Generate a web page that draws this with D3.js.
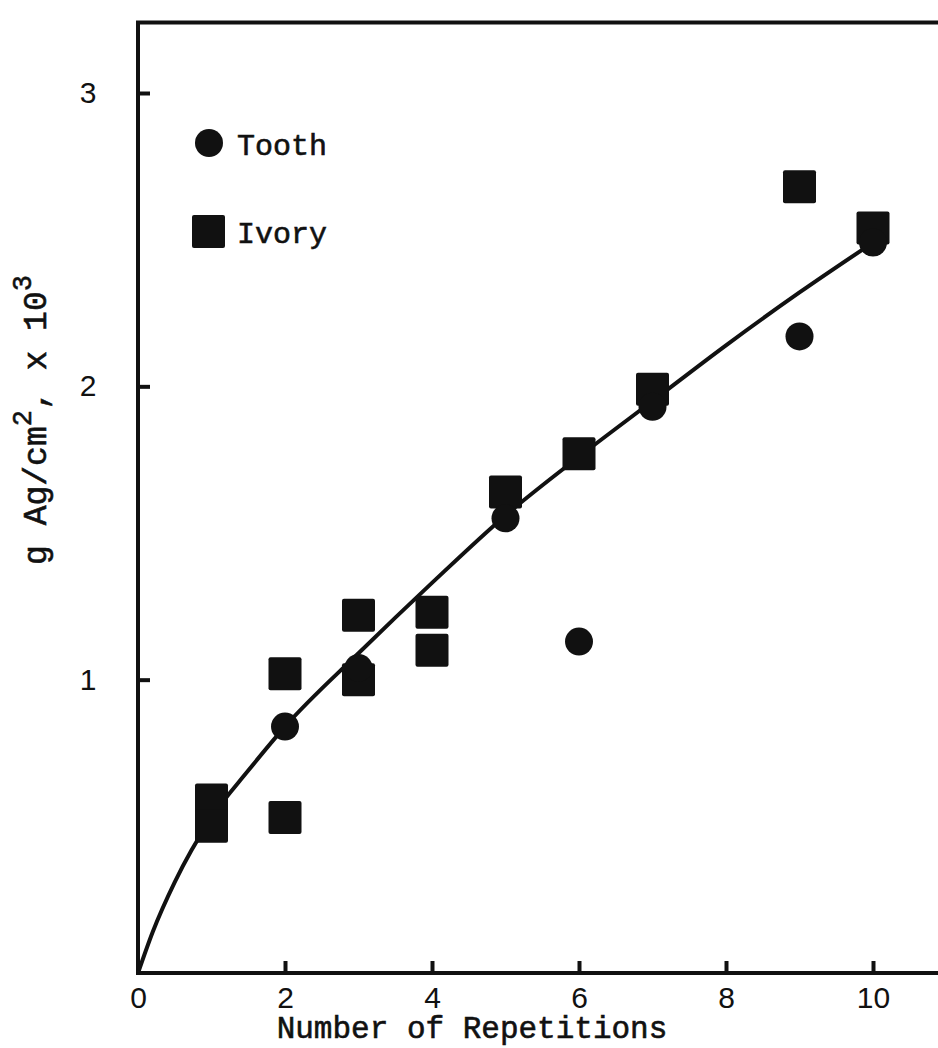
<!DOCTYPE html>
<head>
    <script src="https://d3js.org/d3.v7.min.js"></script>
</head>
<style>
body {
    margin: 0;
    background: #fff;
}
.lbl {
    font-family: "Liberation Mono", "DejaVu Sans Mono", monospace;
    fill: #111;
    stroke: #111;
    stroke-width: 0.6px;
}
.tick text {
    font-family: "Liberation Sans", Arial, sans-serif;
    font-size: 30px;
    fill: #111;
}
</style>
<body>
<svg></svg>
</body>
<script>

    // Values
    var toothX = [2, 3, 5, 6, 7, 9, 10];
    var toothY = [0.84, 1.04, 1.55, 1.13, 1.93, 2.17, 2.49];

    var ivoryX = [1, 1, 2, 2, 3, 3, 4, 4, 5, 6, 7, 9, 10];
    var ivoryY = [0.59, 0.50, 1.02, 0.53, 1.22, 1.00, 1.23, 1.10, 1.64, 1.77, 1.99, 2.68, 2.54];

    // fitted curve, read at several points
    var curveX = [0, 0.2, 0.5, 1, 1.5, 2, 3, 4, 5, 6, 7, 8, 9, 10];
    var curveY = [0, 0.14, 0.31, 0.53, 0.69, 0.84, 1.09, 1.33, 1.56, 1.76, 1.95, 2.14, 2.32, 2.49];

    var xTicks = [0, 2, 4, 6, 8, 10];
    var yTicks = [1, 2, 3];

    var width = 938;
    var height = 1048;

    var svg = d3.select('svg')
        .attr('width', width)
        .attr('height', height);

    var x = d3.scaleLinear().domain([0, 10]).range([138, 873]);
    var y = d3.scaleLinear().domain([0, 3]).range([973, 93]);
    var yTop = 3.24;

    // axes (ticks point inward)
    var xAxis = d3.axisBottom(x).tickValues(xTicks).tickFormat(d3.format('d'))
        .tickSizeInner(-12).tickSizeOuter(0).tickPadding(12);
    var yAxis = d3.axisLeft(y).tickValues(yTicks).tickFormat(d3.format('d'))
        .tickSizeInner(-12).tickSizeOuter(0).tickPadding(50);

    var gx = svg.append('g').attr('transform', 'translate(0,' + y(0) + ')').call(xAxis);
    var gy = svg.append('g').attr('transform', 'translate(' + x(0) + ',0)').call(yAxis);
    gx.select('.domain').remove();
    gy.select('.domain').remove();
    svg.selectAll('.tick line').attr('stroke', '#111').attr('stroke-width', 4);
    gx.selectAll('.tick text').attr('dy', '0.78em');
    gy.selectAll('.tick text').attr('text-anchor', 'middle');

    // frame: left, bottom, top
    var frame = svg.append('g').attr('stroke', '#111').attr('stroke-width', 4).attr('fill', 'none');
    frame.append('path')
        .attr('d', 'M' + width + ',' + y(0) + 'H' + x(0) + 'V' + y(yTop) + 'H' + width);

    // fitted curve
    var line = d3.line()
        .x(function (d, i) { return x(curveX[i]); })
        .y(function (d, i) { return y(curveY[i]); })
        .curve(d3.curveMonotoneX);

    svg.append('path')
        .datum(curveX)
        .attr('d', line)
        .attr('fill', 'none')
        .attr('stroke', '#111')
        .attr('stroke-width', 4);

    // ivory squares
    var sq = 33;
    svg.append('g').selectAll('rect')
        .data(ivoryX)
        .enter().append('rect')
        .attr('x', function (d) { return x(d) - sq / 2; })
        .attr('y', function (d, i) { return y(ivoryY[i]) - sq / 2; })
        .attr('width', sq)
        .attr('height', sq)
        .attr('rx', 2)
        .attr('fill', '#111');

    // tooth circles
    svg.append('g').selectAll('circle')
        .data(toothX)
        .enter().append('circle')
        .attr('cx', function (d) { return x(d); })
        .attr('cy', function (d, i) { return y(toothY[i]); })
        .attr('r', 14)
        .attr('fill', '#111');

    // legend
    svg.append('circle').attr('cx', 209).attr('cy', 143).attr('r', 14).attr('fill', '#111');
    svg.append('text').attr('class', 'lbl').attr('x', 237).attr('y', 155)
        .style('font-size', '30px').text('Tooth');
    svg.append('rect').attr('x', 192).attr('y', 215).attr('width', sq).attr('height', sq)
        .attr('rx', 2).attr('fill', '#111');
    svg.append('text').attr('class', 'lbl').attr('x', 237).attr('y', 243)
        .style('font-size', '30px').text('Ivory');

    // axis titles
    svg.append('text').attr('class', 'lbl')
        .attr('x', 472).attr('y', 1038)
        .attr('text-anchor', 'middle')
        .style('font-size', '31px')
        .text('Number of Repetitions');

    var yl = svg.append('text').attr('class', 'lbl')
        .attr('transform', 'translate(46,420)rotate(-90)')
        .attr('text-anchor', 'middle')
        .style('font-size', '33px');
    yl.append('tspan').text('g Ag/cm');
    yl.append('tspan').attr('dy', -15).style('font-size', '27px').text('2');
    yl.append('tspan').attr('dy', 15).text(', x 10');
    yl.append('tspan').attr('dy', -15).style('font-size', '27px').text('3');

</script>
